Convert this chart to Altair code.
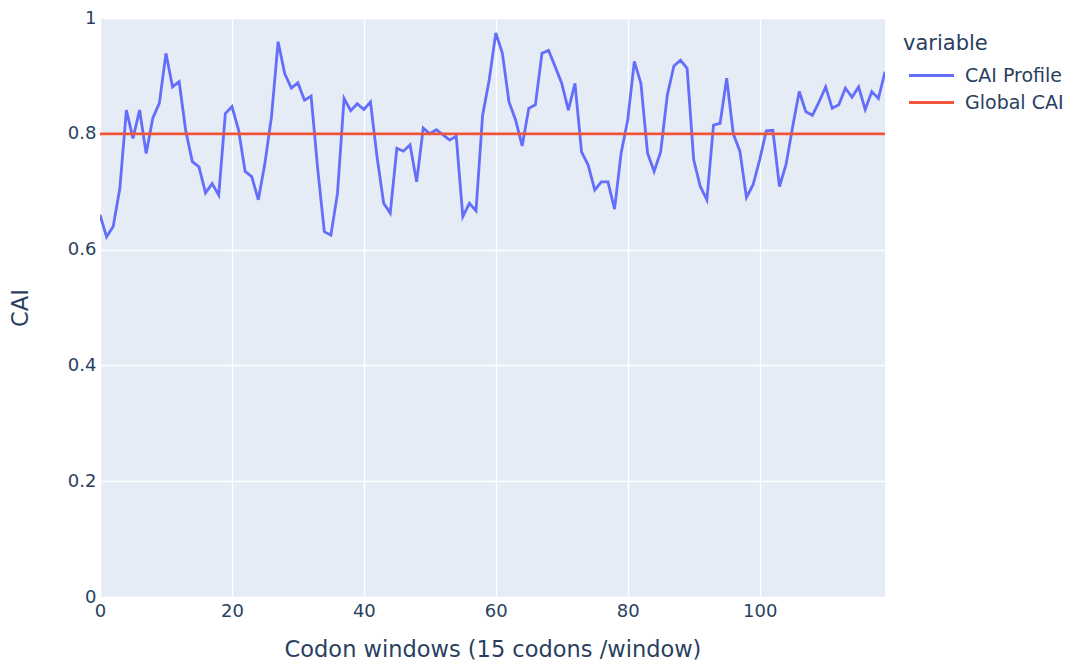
import altair as alt
import pandas as pd

cai_profile = [
    0.660, 0.622, 0.640, 0.705, 0.841, 0.792, 0.841, 0.766, 0.827, 0.853,
    0.939, 0.881, 0.890, 0.805, 0.752, 0.743, 0.698, 0.714, 0.694, 0.835,
    0.847, 0.807, 0.735, 0.726, 0.686, 0.749, 0.830, 0.959, 0.904, 0.879,
    0.888, 0.858, 0.865, 0.740, 0.631, 0.625, 0.697, 0.861, 0.840, 0.852,
    0.842, 0.855, 0.760, 0.680, 0.663, 0.775, 0.770, 0.781, 0.717, 0.810,
    0.800, 0.807, 0.798, 0.789, 0.796, 0.657, 0.680, 0.667, 0.832, 0.893,
    0.974, 0.939, 0.855, 0.824, 0.779, 0.844, 0.850, 0.939, 0.944, 0.916,
    0.887, 0.841, 0.887, 0.769, 0.746, 0.703, 0.717, 0.717, 0.670, 0.767,
    0.824, 0.925, 0.887, 0.767, 0.735, 0.769, 0.867, 0.917, 0.927, 0.913,
    0.755, 0.709, 0.686, 0.815, 0.818, 0.896, 0.800, 0.770, 0.690, 0.712,
    0.755, 0.805, 0.806, 0.709, 0.747, 0.812, 0.873, 0.838, 0.832, 0.855,
    0.881, 0.844, 0.850, 0.879, 0.863, 0.881, 0.842, 0.873, 0.861, 0.907,
]
global_cai = 0.80
series_names = ["CAI Profile", "Global CAI"]
series_colors = ["#636EFA", "#EF553B"]
x_ticks = [0, 20, 40, 60, 80, 100]
y_ticks = [0, 0.2, 0.4, 0.6, 0.8, 1]

n = len(cai_profile)
rows = []
for i, v in enumerate(cai_profile):
    rows.append({"window": i, "CAI": v, "variable": series_names[0]})
for i in range(n):
    rows.append({"window": i, "CAI": global_cai, "variable": series_names[1]})
df = pd.DataFrame(rows)

font = "DejaVu Sans"
txt = "#2a3f5f"

chart = alt.Chart(df).mark_line(strokeWidth=2.8, clip=True).encode(
    x=alt.X("window:Q",
            scale=alt.Scale(domain=[0, n - 1], nice=False, zero=False),
            axis=alt.Axis(values=x_ticks, title="Codon windows (15 codons /window)",
                          titlePadding=18, labelPadding=5, labelFlush=False)),
    y=alt.Y("CAI:Q",
            scale=alt.Scale(domain=[0, 1], nice=False),
            axis=alt.Axis(values=y_ticks, format="~g", title="CAI",
                          titlePadding=35, labelPadding=4, labelFlush=False)),
    color=alt.Color("variable:N",
                    scale=alt.Scale(domain=series_names, range=series_colors),
                    legend=alt.Legend(title="variable", orient="none",
                                      legendX=803, legendY=15,
                                      symbolType="M-1.5,0H1.5", symbolSize=900,
                                      symbolStrokeWidth=2.8, rowPadding=-3,
                                      symbolOffset=12, labelOffset=17,
                                      titlePadding=5)),
).properties(
    width=785, height=579,
    background="white",
    autosize=alt.AutoSizeParams(type="none"),
    padding={"left": 100, "top": 18, "right": 187, "bottom": 68},
).configure_view(
    fill="#E5ECF6", stroke=None
).configure_axis(
    grid=True, gridColor="white", gridWidth=1.3,
    domain=False, ticks=False,
    labelFont=font, labelFontSize=18, labelColor=txt,
    titleFont=font, titleFontSize=22.5, titleColor=txt, titleFontWeight="normal",
).configure_legend(
    titleFont=font, titleFontSize=21, titleColor=txt, titleFontWeight="normal",
    labelFont=font, labelFontSize=19, labelColor=txt,
)

chart.save("out.html", embed_options={"renderer": "svg", "actions": False})
